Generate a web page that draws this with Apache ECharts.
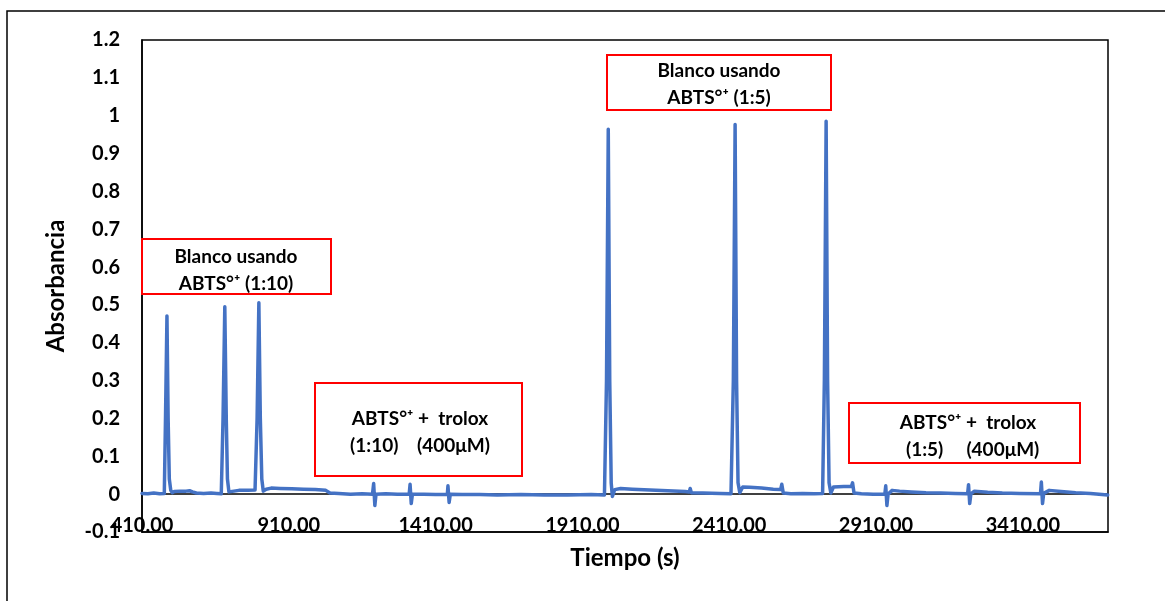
<!DOCTYPE html>
<html>
<head>
<meta charset="utf-8">
<script src="https://cdn.jsdelivr.net/npm/echarts@6/dist/echarts.min.js"></script>
<style>
  html, body { margin: 0; padding: 0; background: #fff; }
  #chart { width: 1165px; height: 601px; }
</style>
</head>
<body>
<div id="chart"></div>
<script>
// tiempo (s) y absorbancia
var tiempo = [
  410, 430, 450, 470, 486, 490, 495, 499, 503, 508, 513, 520, 540, 560, 572, 577, 582, 595,
  620, 645, 665, 680, 686, 692, 697, 701, 706, 712, 740, 770, 795, 802, 808, 813, 818, 823,
  833, 850, 880, 920, 960, 1000, 1036, 1050, 1080, 1120, 1160, 1195, 1199, 1203, 1207, 1240,
  1280, 1320, 1323, 1327, 1331, 1370, 1410, 1450, 1452, 1456, 1460, 1500, 1560, 1620, 1700,
  1780, 1860, 1940, 1985, 1992, 1998, 2003, 2008, 2012, 2020, 2040, 2080, 2140, 2200, 2260,
  2274, 2277, 2281, 2320, 2380, 2416, 2424, 2430, 2435, 2440, 2446, 2456, 2480, 2520, 2560,
  2585, 2589, 2594, 2620, 2660, 2700, 2728, 2734, 2740, 2745, 2750, 2756, 2765, 2800, 2826,
  2830, 2835, 2860, 2900, 2940, 2943, 2947, 2951, 2965, 2990, 3030, 3080, 3130, 3180, 3222,
  3225, 3229, 3233, 3245, 3290, 3340, 3400, 3470, 3473, 3477, 3481, 3500, 3540, 3590, 3640, 3699
];
var absorbancia = [
  0.002, 0.001, 0.003, 0.001, 0.002, 0.20, 0.471, 0.20, 0.04, 0.01, 0.004, 0.007, 0.008, 0.008, 0.009, 0.014, 0.006, 0.003,
  0.002, 0.003, 0.002, 0.001, 0.20, 0.495, 0.20, 0.04, 0.006, 0.009, 0.010, 0.010, 0.011, 0.20, 0.506, 0.20, 0.04, 0.008,
  0.013, 0.016, 0.015, 0.014, 0.013, 0.012, 0.010, 0.003, 0.002, 0.000, 0.001, 0.000, 0.028, -0.030, 0.000, 0.001,
  0.000, 0.000, 0.026, -0.025, 0.000, 0.000, -0.001, 0.000, 0.022, -0.022, 0.000, -0.001, -0.001, -0.002, -0.001,
  -0.002, -0.002, -0.001, -0.002, 0.30, 0.964, 0.30, 0.03, -0.006, 0.012, 0.015, 0.013, 0.011, 0.009, 0.007,
  0.006, 0.015, 0.004, 0.003, 0.002, 0.001, 0.30, 0.977, 0.30, 0.03, 0.004, 0.019, 0.018, 0.016, 0.013,
  0.012, 0.026, 0.003, 0.001, 0.002, 0.001, 0.002, 0.30, 0.985, 0.30, 0.03, 0.003, 0.019, 0.020, 0.020,
  0.030, 0.003, 0.001, 0.000, 0.000, 0.022, -0.030, 0.000, 0.010, 0.008, 0.006, 0.004, 0.003, 0.002, 0.001,
  0.025, -0.025, 0.001, 0.008, 0.005, 0.003, 0.002, 0.001, 0.032, -0.025, 0.002, 0.010, 0.007, 0.004, 0.002, -0.002
];

var fuente = 'Lato, "Open Sans", sans-serif';

// cuadros de texto (anotaciones)
function cuadro(x, y, w, h, lineas, cx, cy) {
  return [{
    type: 'rect',
    shape: { x: x, y: y, width: w, height: h },
    style: { fill: '#fff', stroke: '#ff0000', lineWidth: 2 },
    z: 10
  }, {
    type: 'text',
    x: cx, y: cy,
    style: {
      text: lineas.join('\n'),
      fontFamily: fuente, fontWeight: 'bold', fontSize: 19,
      lineHeight: 27, fill: '#000',
      align: 'center', verticalAlign: 'middle'
    },
    z: 11
  }];
}

var graficos = [{
  type: 'rect',
  shape: { x: 7, y: 11, width: 1170, height: 600 },
  style: { fill: 'none', stroke: '#000', lineWidth: 1.5 },
  silent: true
}];
graficos = graficos
  .concat(cuadro(142, 239, 189, 55, ['Blanco usando', 'ABTS°⁺ (1:10)'], 236, 270))
  .concat(cuadro(607, 55, 224, 55, ['Blanco usando', 'ABTS°⁺ (1:5)'], 719, 84))
  .concat(cuadro(315, 383, 207, 93, ['ABTS°⁺ +  trolox', '(1:10)    (400μM)'], 420, 432))
  .concat(cuadro(849, 403, 231, 60, ['ABTS°⁺ +  trolox', '  (1:5)     (400μM)'], 968, 436));

var chart = echarts.init(document.getElementById('chart'));
chart.setOption({
  animation: false,
  backgroundColor: '#fff',
  grid: {
    left: 142, top: 40, right: 57, bottom: 69,
    show: true, borderColor: '#000', borderWidth: 1.5
  },
  xAxis: {
    type: 'value',
    min: 410, max: 3700, interval: 500,
    name: 'Tiempo (s)',
    nameLocation: 'middle', nameGap: 14,
    nameTextStyle: { fontFamily: fuente, fontWeight: 'bold', fontSize: 24, color: '#000' },
    axisLine: { onZero: false, lineStyle: { color: '#000', width: 1.5 } },
    axisTick: { show: false },
    splitLine: { show: false },
    axisLabel: {
      showMaxLabel: false,
      margin: -16,
      fontFamily: fuente, fontWeight: 'bold', fontSize: 20, color: '#000',
      formatter: function (v) { return v.toFixed(2); }
    }
  },
  yAxis: {
    type: 'value',
    min: -0.1, max: 1.2, interval: 0.1,
    name: 'Absorbancia',
    nameLocation: 'middle', nameGap: 74, nameRotate: 90,
    nameTextStyle: { fontFamily: fuente, fontWeight: 'bold', fontSize: 24, color: '#000' },
    axisLine: { show: true, lineStyle: { color: '#000', width: 1.5 } },
    axisTick: { show: false },
    splitLine: { show: false },
    axisLabel: {
      margin: 22,
      fontFamily: fuente, fontWeight: 'bold', fontSize: 20, color: '#000',
      formatter: function (v) { return String(Math.round(v * 10) / 10); }
    }
  },
  series: [{
    type: 'line',
    data: tiempo.map(function (t, i) { return [t, absorbancia[i]]; }),
    showSymbol: false,
    lineStyle: { color: '#4472c4', width: 3.5, cap: 'round', join: 'round' },
    markLine: {
      silent: true,
      symbol: 'none',
      label: { show: false },
      lineStyle: { color: '#000', width: 1.5, type: 'solid' },
      data: [{ yAxis: 0 }],
      z: 1
    },
    z: 3
  }],
  graphic: graficos
});
</script>
</body>
</html>
